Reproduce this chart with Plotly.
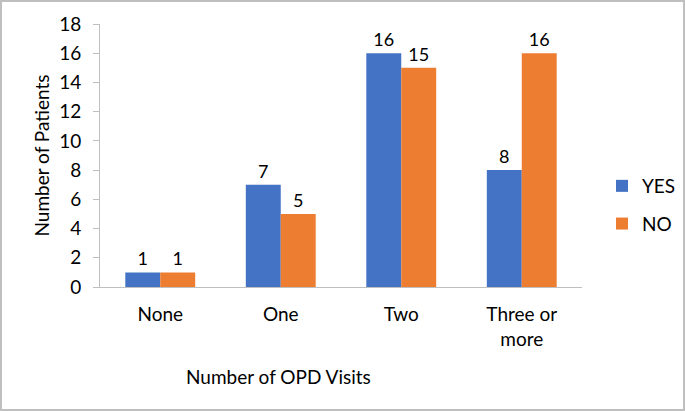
import plotly.graph_objects as go

categories = ["None", "One", "Two", "Three or<br>more"]
yes_values = [1, 7, 16, 8]
no_values = [1, 5, 15, 16]
series_names = ["YES", "NO"]
y_ticks = [0, 2, 4, 6, 8, 10, 12, 14, 16, 18]

W, H = 685, 411
L, R, T, B = 100, 103, 24, 124
pw, ph = W - L - R, H - T - B

def px_x(x):
    return (x - L) / pw

def px_y(y):
    return (H - B - y) / ph

FONT = "Lato, Carlito, Calibri, sans-serif"

fig = go.Figure()
for name, vals, col, grp in [(series_names[0], yes_values, "#4472C4", "a"),
                             (series_names[1], no_values, "#ED7D31", "b")]:
    fig.add_trace(go.Bar(
        x=categories, y=vals, name=name, marker=dict(color=col, line=dict(width=0)),
        text=[str(v) for v in vals], textposition="outside", cliponaxis=False,
        textfont=dict(size=18, color="#000000", family=FONT),
        legendgroup=grp,
    ))

fig.update_layout(
    width=W, height=H,
    margin=dict(l=L, r=R, t=T, b=B, autoexpand=False),
    paper_bgcolor="white", plot_bgcolor="white",
    barmode="group", bargap=0.42, bargroupgap=0,
    font=dict(family=FONT, size=16, color="#000000"),
    showlegend=True,
    legend=dict(x=px_x(602), y=px_y(205), xanchor="left", yanchor="middle",
                font=dict(size=19, family=FONT), tracegroupgap=10,
                traceorder="grouped", itemwidth=30),
    xaxis=dict(showline=True, linecolor="#BFBFBF", linewidth=1, ticks="",
               tickfont=dict(size=19, family=FONT), showgrid=False, automargin=False,
               ticklabelstandoff=10),
    yaxis=dict(range=[0, 18], tickvals=y_ticks, showline=True, linecolor="#BFBFBF",
               linewidth=1, ticks="outside", ticklen=6, tickcolor="#BFBFBF",
               showgrid=False, zeroline=False, tickfont=dict(size=19, family=FONT),
               automargin=False, ticklabelstandoff=8,
               title=dict(text="Number of Patients", font=dict(size=19, family=FONT), standoff=4)),
    shapes=[dict(type="rect", xref="paper", yref="paper",
                 x0=px_x(1), x1=px_x(684), y0=px_y(410), y1=px_y(1),
                 line=dict(color="#BFBFBF", width=2), fillcolor="rgba(0,0,0,0)", layer="below")],
    annotations=[dict(text="Number of OPD Visits", xref="paper", yref="paper",
                      x=px_x(278), y=px_y(376), xanchor="center", yanchor="middle",
                      showarrow=False, font=dict(size=19, family=FONT))],
)

fig.write_html("out.html", config={"displayModeBar": False},
               post_script="document.body.style.margin='0';document.body.style.padding='0';")
